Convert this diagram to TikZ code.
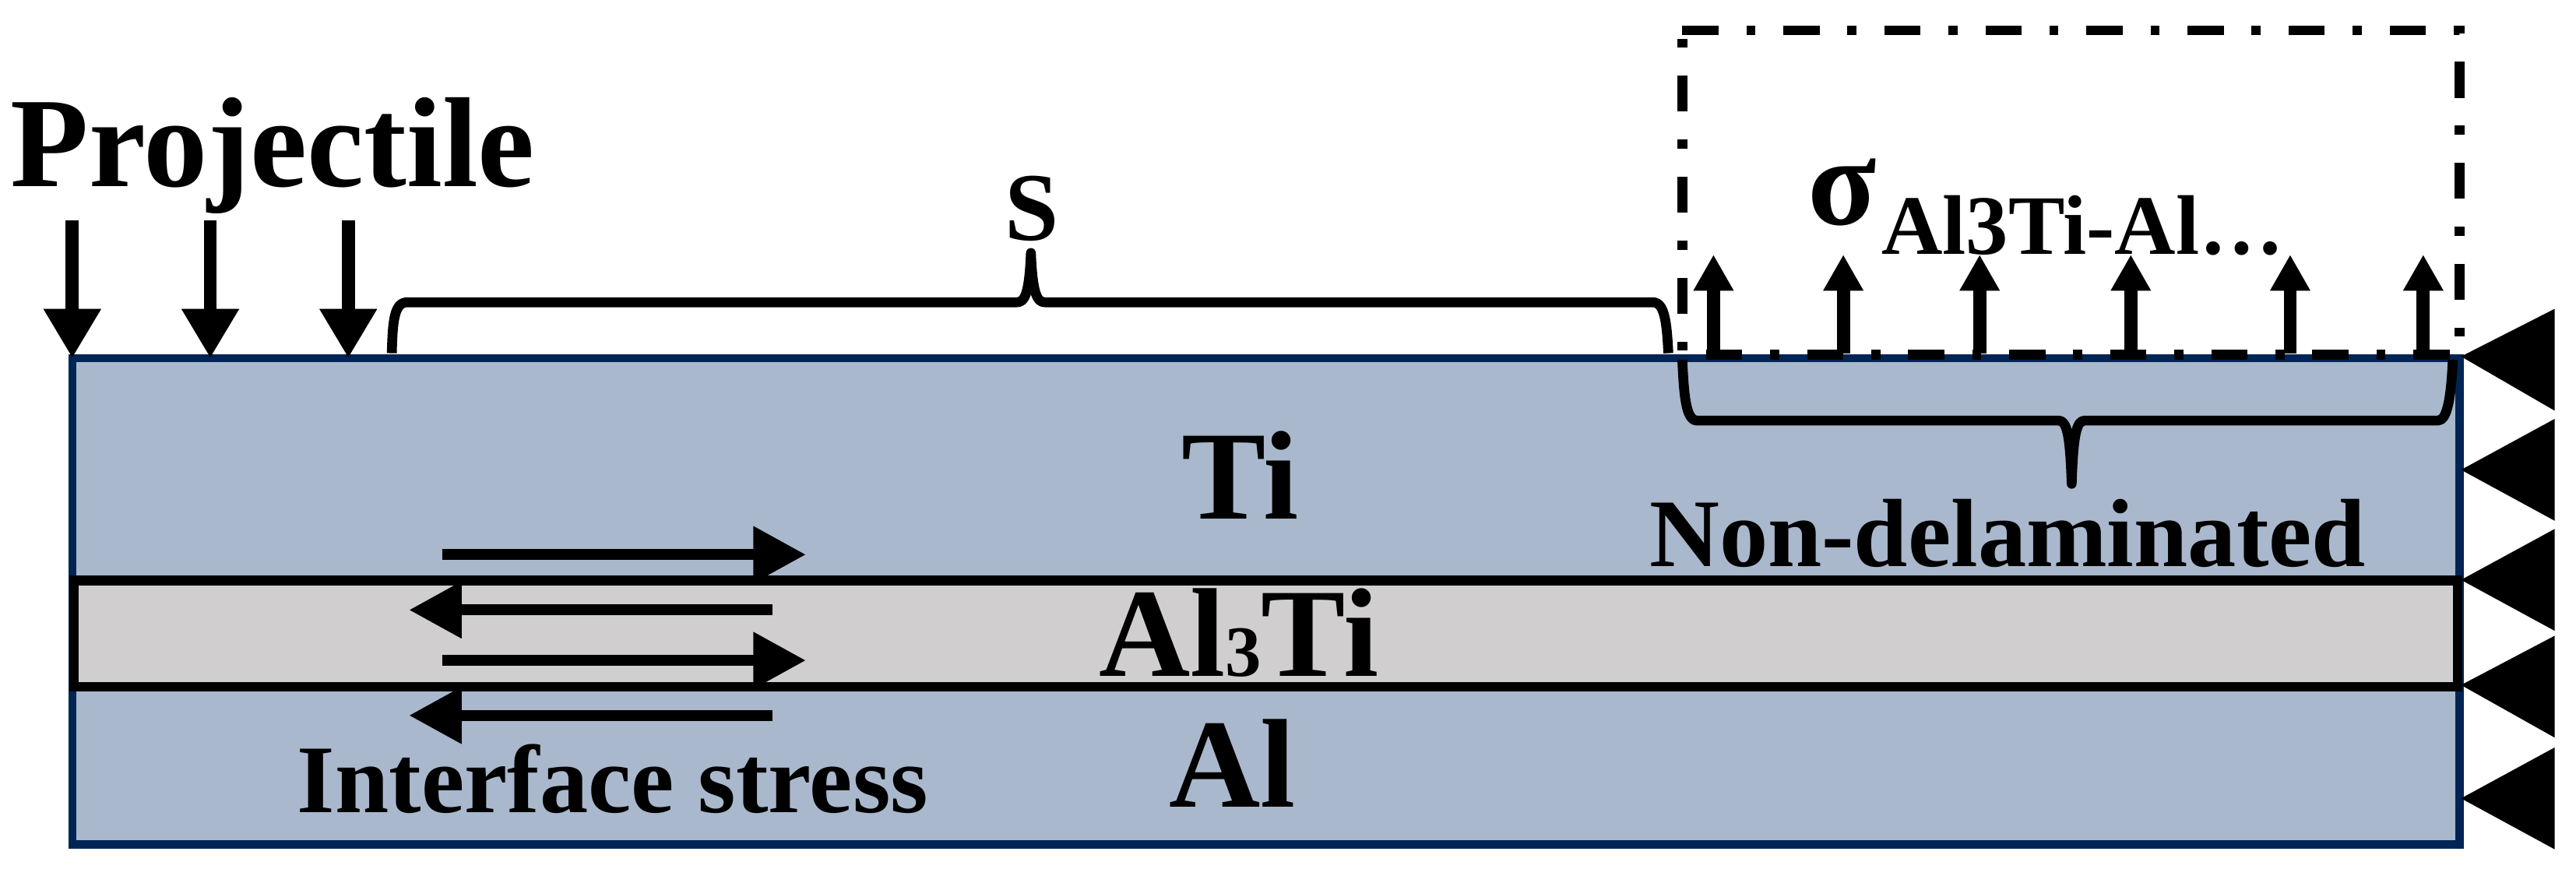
\documentclass[tikz,border=0pt]{standalone}
\usepackage{fontspec}
\setmainfont{Liberation Serif}
\usetikzlibrary{arrows.meta}
\definecolor{layerblue}{HTML}{A9B8CC}
\definecolor{layergrey}{HTML}{D0CECE}
\definecolor{edgenavy}{HTML}{002554}

\begin{document}
\begin{tikzpicture}[
    x=1pt, y=-1pt,
    label78/.style={font=\bfseries\fontsize{78}{78}\selectfont, inner sep=0pt, anchor=base},
    label77/.style={font=\bfseries\fontsize{77}{77}\selectfont, inner sep=0pt, anchor=base},
    label59/.style={font=\bfseries\fontsize{59}{59}\selectfont, inner sep=0pt, anchor=base},
    loadarrow/.style={line width=8pt, -{Triangle[length=30pt,width=33pt]}},
    stressarrow/.style={line width=6.5pt, -{Triangle[length=32pt,width=33pt]}},
    liftarrow/.style={line width=8pt, -{Triangle[length=22pt,width=23pt]}},
    bracket/.style={line width=6pt, line join=round},
    supporttri/.style={fill=black}
]
\useasboundingbox (0,0) rectangle (1568,533);

% layers
\draw[edgenavy, line width=5pt, fill=layerblue] (44,218) rectangle (1497,514);
\draw[black, line width=6pt, fill=layergrey] (45,353.5) rectangle (1496,418);

% supports
\foreach \ytop/\ytip/\ybot in {188/217/250, 255/286/317, 322/353/384, 387/417/449, 455/486/517}
    \fill[supporttri] (1555,\ytop) -- (1498,\ytip) -- (1555,\ybot) -- cycle;

% texts
\node[label78] (projectile) at (166,113.7) {Projectile};
\node[label59] (spanlabel) at (628,146) {S};
\node[label77] (ti) at (755,315.7) {Ti};
\node[label77] (al3ti) at (754,411.6) {Al{\fontsize{44}{44}\selectfont 3}Ti};
\node[label77] (al) at (750,491.5) {Al};
\node[label59] (nondelam) at (1222,344.6) {Non-delaminated};
\node[label59] (interface) at (373,494.5) {Interface stress};
\node[label77, anchor=base west] (sigma) at (1100,136.6) {σ};
\node[font=\bfseries\fontsize{51.5}{52}\selectfont, inner sep=0pt, anchor=base west] (sigmasub) at (1145,154.8) {Al3Ti-Al…};

% projectile arrows
\foreach \x in {44,128,212}
    \draw[loadarrow] (\x,134) -- (\x,218);

% interface stress arrows
\draw[stressarrow] (269,337.6) -- (490.5,337.6);
\draw[stressarrow] (470,371.3) -- (249,371.3);
\draw[stressarrow] (269,402) -- (490.5,402);
\draw[stressarrow] (470,435.5) -- (249,435.5);

% brackets
\draw[bracket] (238.5,215) .. controls (239,195) and (240,184) .. (248,184)
    -- (619,184) .. controls (624,184) and (626.5,178) .. (627.5,154)
    .. controls (628.5,178) and (631,184) .. (636,184)
    -- (1006,184) .. controls (1013,184) and (1014.5,195) .. (1015.5,215);
\draw[bracket] (1024,219) .. controls (1025,240) and (1026,256) .. (1033,256)
    -- (1253,256) .. controls (1258,256) and (1260,264) .. (1261,294.5)
    .. controls (1262,264) and (1264,256) .. (1269,256)
    -- (1484,256) .. controls (1490,256) and (1492,240) .. (1493,219);

% lift arrows
\foreach \x in {1043,1122,1205,1297,1394,1475}
    \draw[liftarrow] (\x,215) -- (\x,155);

% non-delaminated window
\draw[black, line width=6pt, dash pattern=on 22pt off 17pt on 5.5pt off 17pt]
    (1024,18.5) -- (1497,18.5) -- (1497,216) -- (1024,216) -- cycle;

\end{tikzpicture}
\end{document}
